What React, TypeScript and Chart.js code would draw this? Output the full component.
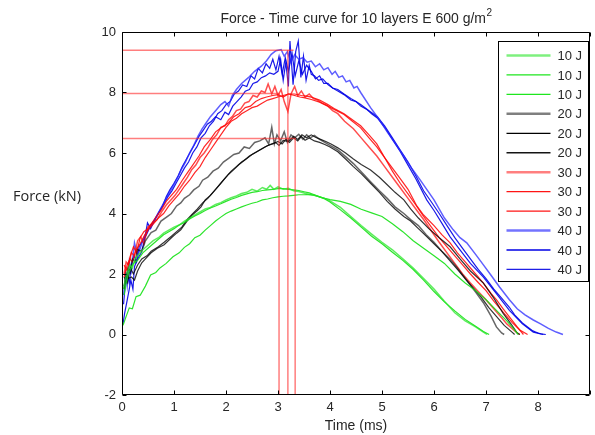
import { useEffect, useRef } from 'react';
import { Chart, registerables } from 'chart.js';
Chart.register(...registerables);

type P = [number, number][];

// ---- 10 J ----
const g1: P = [[0.03,1.5],[0.06,1.8],[0.1,2.05],[0.15,2.3],[0.2,2.2],[0.25,2.5],[0.3,2.6],[0.4,2.8],[0.5,2.95],[0.6,3.1],[0.7,3.2],[0.8,3.35],[0.9,3.45],[1.0,3.55],[1.1,3.62],[1.2,3.75],[1.3,3.85],[1.4,3.95],[1.5,4.05],[1.6,4.15],[1.7,4.2],[1.8,4.3],[1.9,4.36],[2.0,4.45],[2.1,4.52],[2.2,4.58],[2.3,4.66],[2.4,4.7],[2.5,4.8],[2.6,4.74],[2.7,4.86],[2.78,4.8],[2.85,4.93],[2.92,4.8],[3.0,4.88],[3.1,4.8],[3.2,4.83],[3.3,4.75],[3.4,4.73],[3.5,4.68],[3.6,4.63],[3.7,4.6],[3.8,4.55],[3.9,4.5],[4.0,4.42],[4.2,4.2],[4.4,3.9],[4.6,3.6],[4.8,3.32],[5.0,3.05],[5.2,2.8],[5.4,2.5],[5.6,2.2],[5.8,1.85],[6.0,1.5],[6.2,1.1],[6.4,0.72],[6.6,0.45],[6.8,0.25],[6.95,0.08],[7.02,0]];
const g2: P = [[0.04,1.3],[0.08,1.7],[0.12,2.0],[0.17,2.2],[0.22,2.35],[0.3,2.45],[0.4,2.7],[0.5,2.85],[0.6,3.0],[0.7,3.15],[0.8,3.3],[0.9,3.4],[1.0,3.5],[1.1,3.62],[1.2,3.7],[1.3,3.82],[1.4,3.92],[1.5,4.0],[1.6,4.1],[1.7,4.18],[1.8,4.25],[1.9,4.32],[2.0,4.4],[2.1,4.47],[2.2,4.53],[2.3,4.6],[2.4,4.65],[2.5,4.7],[2.6,4.72],[2.7,4.76],[2.8,4.78],[2.9,4.8],[3.0,4.82],[3.1,4.82],[3.2,4.8],[3.3,4.78],[3.4,4.76],[3.5,4.72],[3.6,4.68],[3.7,4.62],[3.8,4.55],[3.9,4.48],[4.0,4.38],[4.2,4.12],[4.4,3.85],[4.6,3.55],[4.8,3.25],[5.0,3.0],[5.2,2.72],[5.4,2.45],[5.6,2.15],[5.8,1.8],[6.0,1.42],[6.2,1.08],[6.4,0.78],[6.6,0.5],[6.8,0.27],[6.95,0.1],[7.06,0]];
const g3: P = [[0.02,0.3],[0.08,0.6],[0.14,0.88],[0.2,0.85],[0.27,1.25],[0.35,1.3],[0.45,1.6],[0.55,1.97],[0.65,2.05],[0.73,2.2],[0.85,2.35],[0.98,2.57],[1.1,2.7],[1.2,2.88],[1.3,3.0],[1.4,3.2],[1.5,3.28],[1.6,3.45],[1.7,3.6],[1.8,3.75],[1.9,3.88],[2.0,4.0],[2.1,4.08],[2.2,4.15],[2.3,4.22],[2.4,4.28],[2.5,4.34],[2.6,4.38],[2.7,4.45],[2.8,4.48],[2.9,4.52],[3.0,4.55],[3.1,4.57],[3.2,4.58],[3.3,4.6],[3.4,4.62],[3.5,4.62],[3.6,4.63],[3.7,4.6],[3.8,4.55],[3.9,4.5],[4.0,4.46],[4.2,4.4],[4.4,4.3],[4.6,4.14],[4.8,4.02],[5.0,3.9],[5.2,3.66],[5.4,3.4],[5.6,3.1],[5.8,2.85],[6.0,2.6],[6.2,2.35],[6.4,2.0],[6.6,1.7],[6.8,1.45],[7.0,1.15],[7.2,0.8],[7.4,0.45],[7.55,0.15],[7.62,0]];

// ---- 20 J ----
const b1: P = [[0.04,1.6],[0.08,1.9],[0.12,2.2],[0.16,2.05],[0.2,2.5],[0.25,2.4],[0.3,2.8],[0.38,2.75],[0.45,3.1],[0.56,3.37],[0.65,3.45],[0.75,3.75],[0.87,3.9],[0.95,4.0],[1.05,4.25],[1.13,4.35],[1.2,4.5],[1.3,4.62],[1.38,4.78],[1.48,4.9],[1.55,5.1],[1.65,5.2],[1.75,5.4],[1.85,5.5],[1.95,5.7],[2.05,5.82],[2.15,5.95],[2.25,6.0],[2.35,6.2],[2.45,6.15],[2.55,6.35],[2.65,6.4],[2.75,6.5],[2.82,6.3],[2.88,6.85],[2.93,6.3],[2.98,6.6],[3.05,6.4],[3.12,6.7],[3.18,6.35],[3.25,6.6],[3.32,6.5],[3.4,6.62],[3.48,6.45],[3.55,6.6],[3.62,6.5],[3.7,6.58],[3.8,6.45],[3.9,6.35],[4.0,6.25],[4.15,6.1],[4.3,5.88],[4.45,5.65],[4.6,5.38],[4.78,5.05],[4.95,4.75],[5.1,4.5],[5.25,4.22],[5.42,4.0],[5.55,3.8],[5.7,3.6],[5.85,3.3],[6.0,3.05],[6.15,2.75],[6.3,2.5],[6.45,2.2],[6.6,1.85],[6.8,1.4],[6.95,1.05],[7.1,0.6],[7.2,0.25],[7.3,0.05],[7.35,0]];
const b2: P = [[0.04,1.5],[0.08,2.0],[0.12,1.85],[0.18,1.9],[0.24,1.8],[0.3,2.1],[0.38,2.37],[0.45,2.5],[0.56,2.7],[0.68,2.85],[0.81,2.97],[0.95,3.2],[1.05,3.35],[1.13,3.46],[1.25,3.75],[1.35,3.95],[1.45,4.1],[1.52,4.22],[1.6,4.45],[1.7,4.6],[1.8,4.8],[1.9,5.0],[2.0,5.2],[2.1,5.4],[2.2,5.55],[2.3,5.7],[2.4,5.82],[2.5,5.95],[2.6,6.05],[2.7,6.15],[2.8,6.25],[2.9,6.3],[3.0,6.38],[3.08,6.3],[3.15,6.45],[3.22,6.35],[3.3,6.5],[3.38,6.4],[3.45,6.55],[3.52,6.42],[3.6,6.5],[3.7,6.4],[3.8,6.35],[3.9,6.28],[4.0,6.2],[4.15,6.04],[4.3,5.8],[4.45,5.55],[4.6,5.32],[4.78,5.0],[4.95,4.7],[5.1,4.4],[5.25,4.15],[5.42,3.9],[5.55,3.75],[5.7,3.5],[5.85,3.25],[6.0,3.0],[6.15,2.75],[6.3,2.45],[6.45,2.15],[6.6,1.85],[6.75,1.55],[6.9,1.25],[7.05,0.9],[7.2,0.6],[7.35,0.3],[7.5,0.08],[7.55,0]];
const b3: P = [[0.04,1.9],[0.1,1.7],[0.16,2.2],[0.22,2.0],[0.3,2.3],[0.38,2.5],[0.48,2.6],[0.56,2.75],[0.7,2.9],[0.81,3.05],[0.95,3.25],[1.05,3.4],[1.15,3.55],[1.25,3.8],[1.35,3.98],[1.45,4.15],[1.55,4.35],[1.65,4.5],[1.75,4.7],[1.85,4.9],[1.95,5.1],[2.05,5.3],[2.15,5.45],[2.25,5.62],[2.35,5.75],[2.45,5.9],[2.55,6.0],[2.65,6.1],[2.75,6.2],[2.85,6.28],[2.95,6.35],[3.02,6.25],[3.1,6.42],[3.2,6.38],[3.3,6.55],[3.38,6.45],[3.46,6.6],[3.55,6.5],[3.64,6.6],[3.72,6.52],[3.82,6.45],[3.92,6.38],[4.02,6.3],[4.15,6.17],[4.3,6.0],[4.45,5.8],[4.6,5.62],[4.78,5.44],[4.95,5.2],[5.1,4.95],[5.25,4.7],[5.42,4.45],[5.55,4.15],[5.7,3.85],[5.9,3.5],[6.1,3.2],[6.31,2.9],[6.5,2.5],[6.7,2.1],[6.95,1.7],[7.15,1.2],[7.33,0.7],[7.5,0.3],[7.6,0.05],[7.65,0]];

// ---- 30 J ----
const r1: P = [[0.04,2.0],[0.08,2.4],[0.13,2.3],[0.18,2.7],[0.24,2.6],[0.3,3.1],[0.36,3.23],[0.42,3.0],[0.5,3.56],[0.6,3.7],[0.67,3.79],[0.78,4.1],[0.86,4.3],[0.94,4.45],[1.02,4.6],[1.1,4.8],[1.18,5.0],[1.26,5.2],[1.34,5.45],[1.42,5.6],[1.5,5.85],[1.58,6.0],[1.66,6.2],[1.74,6.45],[1.82,6.6],[1.9,6.85],[1.98,6.9],[2.05,7.1],[2.12,7.2],[2.2,7.4],[2.28,7.45],[2.36,7.65],[2.44,7.7],[2.52,7.9],[2.6,7.85],[2.68,8.05],[2.75,8.0],[2.81,8.28],[2.88,7.95],[2.94,8.2],[3.0,7.9],[3.06,8.1],[3.12,7.7],[3.19,7.37],[3.25,7.95],[3.32,8.2],[3.38,7.9],[3.45,8.05],[3.52,7.85],[3.6,7.95],[3.68,7.8],[3.76,7.75],[3.85,7.65],[3.96,7.55],[4.05,7.4],[4.15,7.3],[4.28,7.05],[4.45,6.8],[4.6,6.5],[4.75,6.2],[4.9,5.9],[5.05,5.55],[5.2,5.2],[5.35,4.85],[5.5,4.5],[5.65,4.15],[5.8,3.8],[5.95,3.42],[6.1,3.05],[6.25,2.7],[6.4,2.35],[6.55,2.0],[6.7,1.7],[6.85,1.42],[7.0,1.15],[7.15,0.85],[7.3,0.55],[7.4,0.35],[7.5,0.2],[7.58,0.08],[7.65,0]];
const r2: P = [[0.04,2.3],[0.1,2.1],[0.16,2.6],[0.22,2.9],[0.28,2.7],[0.35,3.2],[0.42,3.4],[0.5,3.5],[0.58,3.7],[0.66,3.9],[0.75,4.1],[0.85,4.4],[0.95,4.6],[1.05,4.8],[1.16,5.1],[1.26,5.35],[1.36,5.6],[1.48,5.9],[1.58,6.2],[1.7,6.45],[1.8,6.7],[1.92,6.85],[2.05,7.0],[2.15,7.2],[2.25,7.3],[2.37,7.5],[2.47,7.55],[2.57,7.7],[2.68,7.8],[2.78,7.85],[2.9,7.9],[3.0,7.93],[3.1,7.85],[3.2,7.95],[3.32,7.9],[3.42,7.85],[3.52,7.82],[3.64,7.77],[3.8,7.68],[3.96,7.55],[4.1,7.42],[4.27,7.27],[4.43,7.05],[4.59,6.83],[4.75,6.5],[4.9,6.2],[5.05,5.85],[5.2,5.5],[5.35,5.15],[5.5,4.8],[5.67,4.25],[5.8,3.95],[6.0,3.6],[6.15,3.3],[6.31,3.03],[6.45,2.7],[6.6,2.4],[6.8,2.0],[6.95,1.7],[7.1,1.35],[7.2,1.15],[7.33,0.85],[7.45,0.58],[7.6,0.25],[7.72,0]];
const r3: P = [[0.04,1.9],[0.1,2.3],[0.15,2.5],[0.2,2.4],[0.27,2.8],[0.35,3.0],[0.44,3.3],[0.52,3.5],[0.6,3.65],[0.7,3.85],[0.8,4.0],[0.9,4.25],[1.0,4.45],[1.1,4.65],[1.2,4.9],[1.3,5.1],[1.4,5.35],[1.5,5.55],[1.6,5.85],[1.7,6.1],[1.8,6.35],[1.9,6.6],[2.0,6.85],[2.1,7.05],[2.2,7.15],[2.3,7.3],[2.4,7.4],[2.5,7.5],[2.6,7.55],[2.7,7.65],[2.8,7.75],[2.9,7.8],[3.0,7.85],[3.1,7.9],[3.2,7.95],[3.32,7.95],[3.45,7.9],[3.55,7.88],[3.64,7.85],[3.8,7.75],[3.96,7.6],[4.1,7.45],[4.27,7.3],[4.43,7.1],[4.59,6.9],[4.75,6.6],[4.9,6.3],[5.05,5.85],[5.2,5.4],[5.35,5.0],[5.5,4.65],[5.65,4.28],[5.8,3.9],[5.95,3.55],[6.1,3.2],[6.25,2.9],[6.4,2.6],[6.55,2.3],[6.7,2.0],[6.85,1.72],[7.0,1.45],[7.15,1.1],[7.25,0.9],[7.4,0.6],[7.5,0.4],[7.65,0.15],[7.8,0]];

// ---- 40 J ----
const bl1: P = [[0.03,1.3],[0.07,2.0],[0.1,1.6],[0.14,2.4],[0.18,2.1],[0.24,3.03],[0.3,2.6],[0.36,2.9],[0.42,3.2],[0.5,3.45],[0.58,3.65],[0.66,3.9],[0.74,4.15],[0.82,4.4],[0.9,4.65],[0.98,4.9],[1.06,5.15],[1.14,5.45],[1.22,5.7],[1.3,6.0],[1.38,6.25],[1.46,6.55],[1.54,6.8],[1.62,7.0],[1.7,7.2],[1.8,7.4],[1.9,7.6],[1.98,7.7],[2.05,7.55],[2.12,7.9],[2.2,8.1],[2.3,8.3],[2.43,8.49],[2.55,8.7],[2.68,8.87],[2.78,9.05],[2.87,9.26],[2.96,9.38],[3.06,9.42],[3.12,9.2],[3.18,9.35],[3.25,9.0],[3.32,9.25],[3.4,9.1],[3.48,9.15],[3.56,9.0],[3.64,9.04],[3.72,8.85],[3.8,8.95],[3.88,8.75],[3.96,8.82],[4.04,8.6],[4.1,8.7],[4.17,8.5],[4.24,8.55],[4.31,8.35],[4.38,8.4],[4.46,8.15],[4.52,8.2],[4.59,8.0],[4.78,7.5],[4.95,7.1],[5.1,6.7],[5.26,6.3],[5.42,5.9],[5.57,5.5],[5.73,5.12],[5.88,4.75],[6.0,4.45],[6.2,3.85],[6.37,3.46],[6.5,3.2],[6.63,3.03],[6.8,2.65],[6.95,2.3],[7.1,1.95],[7.26,1.57],[7.45,1.15],[7.6,0.85],[7.75,0.65],[7.91,0.48],[8.05,0.35],[8.2,0.2],[8.35,0.08],[8.48,0]];
const bl2: P = [[0.02,0.35],[0.05,0.7],[0.1,1.14],[0.14,1.5],[0.17,1.8],[0.21,1.5],[0.24,2.24],[0.3,2.5],[0.37,2.7],[0.43,3.1],[0.49,3.69],[0.55,3.5],[0.62,3.75],[0.7,4.0],[0.78,4.25],[0.85,4.55],[0.92,4.78],[1.0,5.0],[1.08,5.25],[1.16,5.55],[1.24,5.8],[1.32,6.05],[1.4,6.3],[1.48,6.55],[1.56,6.75],[1.64,6.95],[1.72,7.05],[1.8,7.2],[1.9,7.1],[1.98,7.35],[2.05,7.27],[2.13,7.55],[2.21,7.7],[2.29,7.85],[2.37,8.04],[2.45,8.1],[2.52,8.3],[2.6,8.35],[2.68,8.49],[2.76,8.55],[2.84,8.65],[2.92,8.6],[3.0,8.7],[3.05,9.1],[3.1,8.4],[3.15,9.0],[3.2,8.2],[3.23,9.7],[3.29,8.26],[3.34,9.35],[3.39,9.7],[3.44,8.5],[3.49,9.2],[3.54,8.4],[3.6,8.9],[3.64,8.6],[3.7,8.55],[3.78,8.4],[3.86,8.45],[3.96,8.26],[4.05,8.15],[4.15,8.05],[4.27,7.93],[4.4,7.75],[4.5,7.7],[4.59,7.55],[4.7,7.45],[4.8,7.3],[4.91,7.16],[5.05,6.85],[5.2,6.45],[5.35,6.05],[5.5,5.6],[5.65,5.15],[5.86,4.45],[6.0,4.1],[6.15,3.68],[6.31,3.23],[6.5,2.8],[6.7,2.35],[6.95,1.9],[7.2,1.35],[7.45,0.8],[7.7,0.35],[7.91,0.08],[8.05,0.02],[8.15,0]];
const bl3: P = [[0.03,1.0],[0.06,1.6],[0.1,2.0],[0.14,1.7],[0.18,2.3],[0.23,2.6],[0.28,2.4],[0.33,2.9],[0.4,3.1],[0.47,3.3],[0.55,3.6],[0.63,3.8],[0.71,4.05],[0.8,4.3],[0.88,4.55],[0.96,4.75],[1.04,5.0],[1.12,5.25],[1.2,5.5],[1.28,5.7],[1.36,6.0],[1.44,6.2],[1.52,6.5],[1.6,6.65],[1.68,6.9],[1.76,7.05],[1.84,7.3],[1.92,7.4],[2.0,7.6],[2.08,7.7],[2.16,7.95],[2.24,8.05],[2.32,8.25],[2.4,8.2],[2.48,8.55],[2.55,8.45],[2.62,8.8],[2.7,8.65],[2.77,8.95],[2.84,8.8],[2.9,9.1],[2.96,8.75],[3.02,9.2],[3.08,8.6],[3.14,9.15],[3.2,8.7],[3.27,9.3],[3.33,8.55],[3.4,9.05],[3.47,8.6],[3.55,8.9],[3.64,8.7],[3.72,8.45],[3.8,8.55],[3.88,8.3],[3.96,8.3],[4.05,8.15],[4.15,8.1],[4.27,7.95],[4.4,7.8],[4.5,7.7],[4.59,7.6],[4.75,7.4],[4.91,7.2],[5.05,6.9],[5.2,6.5],[5.35,6.1],[5.5,5.7],[5.65,5.25],[5.8,4.75],[5.95,4.38],[6.1,4.0],[6.25,3.6],[6.4,3.2],[6.55,2.85],[6.7,2.5],[6.85,2.15],[7.0,1.85],[7.15,1.5],[7.3,1.2],[7.45,0.9],[7.55,0.65],[7.7,0.38],[7.8,0.25],[7.9,0.12],[8.0,0.05],[8.1,0]];

// ---- peak marker lines ----
const markH1: P = [[0, 9.4], [3.3, 9.4]];
const markV1: P = [[3.19, 9.4], [3.19, -2]];
const markH2: P = [[0, 7.97], [3.02, 7.97]];
const markV2: P = [[3.02, 7.97], [3.02, -2]];
const markH3: P = [[0, 6.48], [3.34, 6.48]];
const markV3: P = [[3.33, 6.48], [3.33, -2]];

const seriesLabels = ['10 J', '10 J', '10 J', '20 J', '20 J', '20 J', '30 J', '30 J', '30 J', '40 J', '40 J', '40 J'];
const seriesColors = [
  'rgba(40,230,40,0.75)', 'rgba(20,225,20,0.9)', 'rgba(20,225,20,0.9)',
  'rgba(0,0,0,0.6)', 'rgba(0,0,0,0.8)', 'rgba(0,0,0,0.8)',
  'rgba(255,0,0,0.7)', 'rgba(255,0,0,0.85)', 'rgba(255,0,0,0.85)',
  'rgba(40,40,255,0.75)', 'rgba(0,0,230,0.9)', 'rgba(0,0,230,0.9)',
];
const legendColors = [
  'rgba(40,230,40,0.6)', 'rgb(30,230,30)', 'rgb(30,230,30)',
  'rgba(0,0,0,0.5)', 'rgb(0,0,0)', 'rgb(20,20,20)',
  'rgba(255,0,0,0.5)', 'rgb(255,20,20)', 'rgb(255,20,20)',
  'rgba(0,0,255,0.55)', 'rgb(0,0,230)', 'rgb(30,30,230)',
];
const legendWidths = [2.5, 1.3, 1.3, 2.5, 1.3, 1.3, 2.5, 1.3, 1.3, 2.5, 1.3, 1.3];
const xTicks = [0, 1, 2, 3, 4, 5, 6, 7, 8, 9];
const yTicks = [-2, 0, 2, 4, 6, 8, 10];

const FONT = "'Liberation Sans', Arial, sans-serif";
const TEXT = '#262626';

const decorPlugin = {
  id: 'decor',
  afterDraw(chart: any) {
    const { ctx, chartArea } = chart;
    const L = Math.round(chartArea.left) + 0.5;
    const T = Math.round(chartArea.top) + 0.5;
    const R = Math.round(chartArea.right) - 0.5;
    const B = Math.round(chartArea.bottom) - 0.5;
    const xs = chart.scales.x;
    const ys = chart.scales.y;
    ctx.save();
    ctx.strokeStyle = '#000';
    ctx.lineWidth = 1;
    ctx.beginPath();
    ctx.rect(L, T, R - L, B - T);
    ctx.stroke();
    ctx.beginPath();
    for (const v of xTicks) {
      const px = Math.round(xs.getPixelForValue(v)) + 0.5;
      ctx.moveTo(px, B); ctx.lineTo(px, B - 4);
      ctx.moveTo(px, T); ctx.lineTo(px, T + 4);
    }
    for (const v of yTicks) {
      const py = Math.round(ys.getPixelForValue(v)) + 0.5;
      ctx.moveTo(L, py); ctx.lineTo(L + 4, py);
      ctx.moveTo(R, py); ctx.lineTo(R - 4, py);
    }
    ctx.stroke();

    // title
    const cx = (chartArea.left + chartArea.right) / 2;
    const main = 'Force - Time curve for 10 layers E 600 g/m';
    const sup = '2';
    ctx.fillStyle = TEXT;
    ctx.textBaseline = 'alphabetic';
    ctx.font = `14px ${FONT}`;
    const wMain = ctx.measureText(main).width;
    ctx.font = `10px ${FONT}`;
    const wSup = ctx.measureText(sup).width;
    const start = cx - (wMain + wSup) / 2;
    ctx.font = `14px ${FONT}`;
    ctx.textAlign = 'left';
    ctx.fillText(main, start, 23);
    ctx.font = `10px ${FONT}`;
    ctx.fillText(sup, start + wMain + 0.5, 16);

    // axis titles
    ctx.font = `14px ${FONT}`;
    ctx.textAlign = 'center';
    ctx.textBaseline = 'middle';
    ctx.fillText('Time (ms)', cx, 426);
    ctx.font = `14.5px 'Open Sans', 'Noto Sans', sans-serif`;
    ctx.fillText('Force (kN)', 47, 197);

    // legend
    const boxR = Math.round(chartArea.right) - 2 + 0.5;
    const boxL = boxR - 90;
    const boxT = Math.round(chartArea.top) + 9 + 0.5;
    const boxH = 240;
    ctx.fillStyle = '#fff';
    ctx.fillRect(boxL, boxT, 90, boxH);
    ctx.strokeStyle = '#000';
    ctx.lineWidth = 1;
    ctx.strokeRect(boxL, boxT, 90, boxH);
    ctx.font = `13px ${FONT}`;
    ctx.textAlign = 'left';
    ctx.textBaseline = 'middle';
    for (let i = 0; i < seriesLabels.length; i++) {
      const yy = boxT + 14 + i * 19.45;
      ctx.strokeStyle = legendColors[i];
      ctx.lineWidth = legendWidths[i];
      ctx.beginPath();
      ctx.moveTo(boxL + 8, yy);
      ctx.lineTo(boxL + 52, yy);
      ctx.stroke();
      ctx.fillStyle = TEXT;
      ctx.fillText(seriesLabels[i], boxL + 59, yy + 1);
    }
    ctx.restore();
  },
};

export default function App() {
  const ref = useRef<HTMLCanvasElement>(null);
  useEffect(() => {
    const curves = [g1, g2, g3, b1, b2, b3, r1, r2, r3, bl1, bl2, bl3];
    const marks = [markH1, markV1, markH2, markV2, markH3, markV3];
    const toXY = (c: P) => c.map(([x, y]) => ({ x, y }));
    const markSets = marks.map((m) => ({
      label: '',
      data: toXY(m),
      borderColor: 'rgba(255,40,40,0.6)',
      borderWidth: 1.5,
      pointRadius: 0,
      fill: false,
      tension: 0,
    }));
    const curveSets = curves.map((c, i) => ({
      label: seriesLabels[i],
      data: toXY(c),
      borderColor: seriesColors[i],
      borderWidth: i % 3 === 0 ? 1.5 : 1.2,
      pointRadius: 0,
      fill: false,
      tension: 0,
    }));
    const tickFont = { family: FONT, size: 13 };
    const chart = new Chart(ref.current as HTMLCanvasElement, {
      type: 'line',
      data: { datasets: [...markSets, ...curveSets] as any },
      plugins: [decorPlugin],
      options: {
        animation: false,
        responsive: false,
        parsing: false,
        normalized: true,
        layout: { padding: { top: 32, right: 2, left: 0, bottom: 0 } },
        plugins: {
          legend: { display: false },
          title: { display: false },
          tooltip: { enabled: false },
        },
        scales: {
          x: {
            type: 'linear',
            min: 0,
            max: 9,
            afterBuildTicks: (s: any) => { s.ticks = xTicks.map((v) => ({ value: v })); },
            afterFit: (s: any) => { s.height = 40; },
            ticks: {
              callback: (v: any) => (v === 9 ? '' : String(v)),
              font: tickFont,
              color: TEXT,
              padding: 5,
              maxRotation: 0,
              autoSkip: false,
            },
            grid: { display: false, drawTicks: false },
            border: { display: false },
          },
          y: {
            type: 'linear',
            min: -2,
            max: 10,
            afterBuildTicks: (s: any) => { s.ticks = yTicks.map((v) => ({ value: v })); },
            afterFit: (s: any) => { s.width = 122; },
            ticks: {
              callback: (v: any) => String(v),
              font: tickFont,
              color: TEXT,
              padding: 6,
              autoSkip: false,
            },
            grid: { display: false, drawTicks: false },
            border: { display: false },
          },
        },
      } as any,
    });
    return () => chart.destroy();
  }, []);
  return (
    <div style={{ position: 'fixed', left: 0, top: 0, width: 595, height: 435, background: '#fff' }}>
      <canvas ref={ref} width={595} height={435} style={{ display: 'block' }} />
    </div>
  );
}
